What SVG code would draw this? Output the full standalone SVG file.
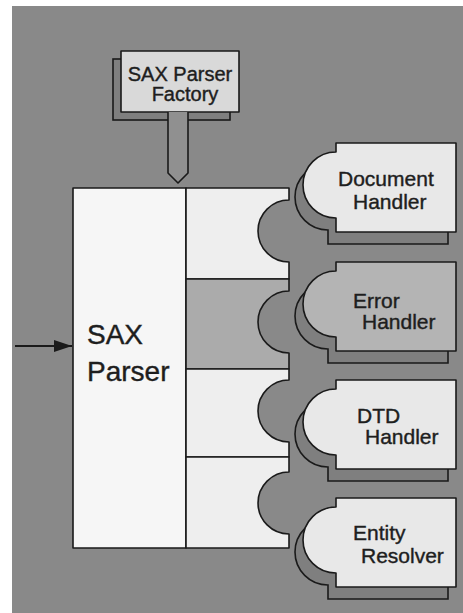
<svg xmlns="http://www.w3.org/2000/svg" width="463" height="613" viewBox="0 0 463 613">
<style>
.t{font-family:"Liberation Sans",Arial,sans-serif;fill:#1e1e1e;stroke:#1e1e1e;stroke-width:0.4}
.ln{stroke:#1a1a1a;stroke-width:1.6;stroke-linejoin:round}
.sh{fill:#7f7f7f;stroke:#1a1a1a;stroke-width:1.6}
</style>
<defs>
<marker id="ah" viewBox="0 0 18 12" refX="18" refY="6" markerWidth="18" markerHeight="12" markerUnits="userSpaceOnUse" orient="auto">
<path d="M0,0 L18,6 L0,12 Z" fill="#1a1a1a"/>
</marker>
<path id="hshape" d="M336,0 H456 V89 H336 V75 A33,33 0 0,1 336,9 Z"/>
</defs>
<rect width="463" height="613" fill="#ffffff"/>
<rect x="12" y="6" width="451" height="607" fill="#898989"/>

<g id="factory">
<rect x="113" y="59" width="117" height="61" class="sh"/>
<rect x="121" y="51" width="118" height="61" fill="#d9d9d9" class="ln"/>
<path d="M168,112 V173 L178,183 L188,173 V112" fill="#909090" class="ln"/>
<text class="t" font-size="20" text-anchor="middle" x="180" y="81">SAX Parser</text>
<text class="t" font-size="20" text-anchor="middle" x="185" y="101">Factory</text>
</g>

<g id="parser">
<rect x="73" y="188" width="113" height="360" fill="#f6f6f6" class="ln"/>
<path d="M186,188 H289 V200 A31,31 0 0,0 289,262 V279 H186 Z" fill="#eeeeee" class="ln"/>
<path d="M186,279 H289 V291 A31,31 0 0,0 289,353 V369 H186 Z" fill="#ababab" class="ln"/>
<path d="M186,369 H289 V380 A31,31 0 0,0 289,442 V457 H186 Z" fill="#eeeeee" class="ln"/>
<path d="M186,457 H289 V472 A31,31 0 0,0 289,534 V548 H186 Z" fill="#eeeeee" class="ln"/>
<text class="t" font-size="28" x="87" y="344">SAX</text>
<text class="t" font-size="28" x="87" y="381">Parser</text>
</g>

<g id="document-handler">
<use href="#hshape" x="-8" y="155" class="sh"/>
<use href="#hshape" x="0" y="143" fill="#e8e8e8" class="ln"/>
<text class="t" font-size="21" x="338" y="186">Document</text>
<text class="t" font-size="21" x="353" y="209">Handler</text>
</g>

<g id="error-handler">
<use href="#hshape" x="-8" y="274" class="sh"/>
<use href="#hshape" x="0" y="262" fill="#b4b4b4" class="ln"/>
<text class="t" font-size="21" x="353" y="308">Error</text>
<text class="t" font-size="21" x="362" y="329">Handler</text>
</g>

<g id="dtd-handler">
<use href="#hshape" x="-8" y="392" class="sh"/>
<use href="#hshape" x="0" y="380" fill="#e8e8e8" class="ln"/>
<text class="t" font-size="21" x="357" y="423">DTD</text>
<text class="t" font-size="21" x="365" y="444">Handler</text>
</g>

<g id="entity-resolver">
<use href="#hshape" x="-8" y="510" class="sh"/>
<use href="#hshape" x="0" y="498" fill="#e8e8e8" class="ln"/>
<text class="t" font-size="21" x="353" y="540">Entity</text>
<text class="t" font-size="21" x="361" y="563">Resolver</text>
</g>

<g id="connectors">
<line x1="15" y1="346" x2="72" y2="346" stroke="#1a1a1a" stroke-width="2" marker-end="url(#ah)"/>
</g>
</svg>
